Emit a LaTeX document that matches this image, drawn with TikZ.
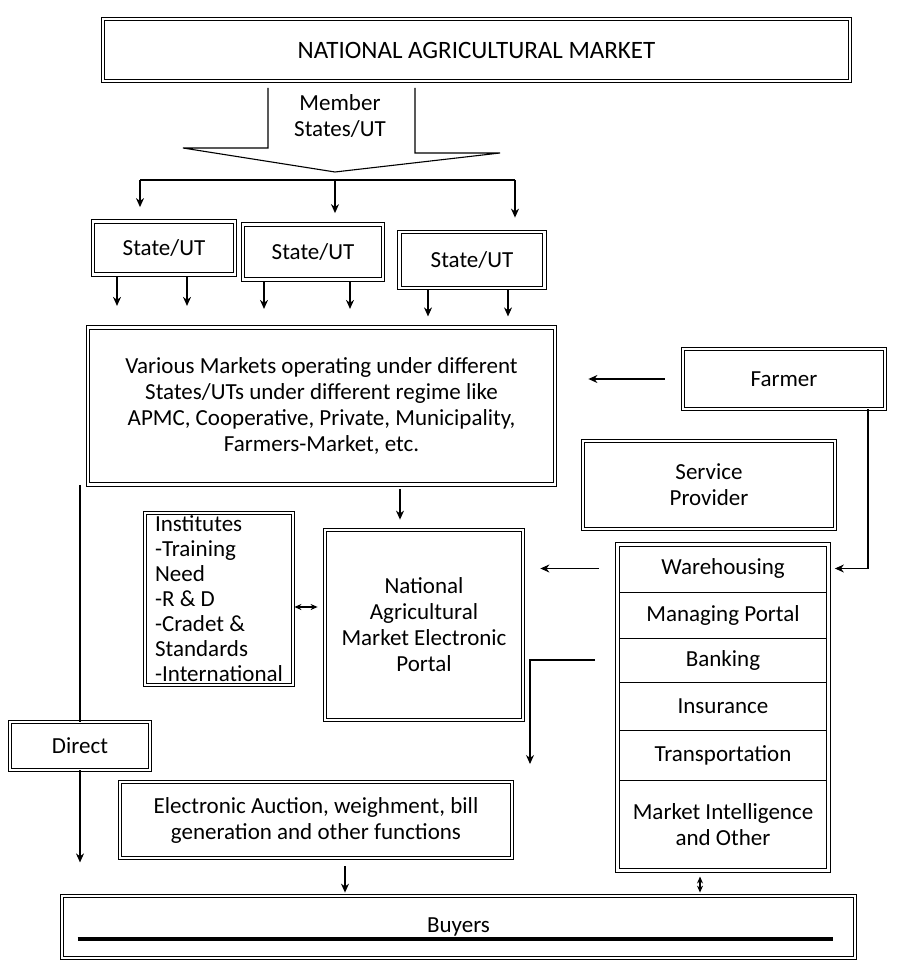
\documentclass[tikz,border=0pt]{standalone}
\usepackage{fontspec}
\setmainfont{Carlito}
\usetikzlibrary{arrows.meta,calc,fit}
\begin{document}
\begin{tikzpicture}[x=1pt,y=-1pt,
  every node/.style={font=\fontsize{23}{26}\selectfont},
  dbox/.style={draw=black, double, double distance=2.6pt, line width=0.8pt, inner sep=0pt, align=center},
  cell/.style={draw=black, line width=1pt, inner sep=0pt, align=center, minimum width=210pt},
  conn/.style={draw=black, line width=1.1pt},
  arr/.style={conn, -{Stealth[length=9pt,width=8pt]}},
  darr/.style={conn, {Stealth[length=7pt,width=6pt]}-{Stealth[length=7pt,width=6pt]}}
]
\useasboundingbox (0,0) rectangle (901,968);

% title
\node[dbox, minimum width=747pt, minimum height=62pt, font=\fontsize{25}{28}\selectfont] (nam) at (476.5,50) {NATIONAL AGRICULTURAL MARKET};

% block arrow
\draw[conn] (268,88) -- (268,148) -- (183,148) -- (335,172) -- (500,153) -- (415,153) -- (415,88);
\node[align=center] (member) at (340,116) {Member\\States/UT};

% bus
\coordinate (b1) at (140,180);
\coordinate (b2) at (335,180);
\coordinate (b3) at (515,180);
\draw[conn] (b1) -- (b3);

% states
\node[dbox, minimum width=142pt, minimum height=53pt] (s1) at (164,248) {State/UT};
\node[dbox, minimum width=140pt, minimum height=55pt] (s2) at (313,252) {State/UT};
\node[dbox, minimum width=145pt, minimum height=56pt] (s3) at (472,260) {State/UT};

\draw[arr, shorten >=14pt] (b1) -- (b1 |- s1.north);
\draw[arr, shorten >=11pt] (b2) -- (b2 |- s2.north);
\draw[arr, shorten >=14pt] (b3) -- (b3 |- s3.north);

% markets
\node[dbox, minimum width=467pt, minimum height=157pt] (mk) at (321.5,406)
 {Various Markets operating under different\\States/UTs under different regime like\\APMC, Cooperative, Private, Municipality,\\Farmers-Market, etc.};

\draw[arr, shorten <=2pt] ($(s1.south)+(-47,0)$) -- ++(0,31);
\draw[arr, shorten <=2pt] ($(s1.south)+(23,0)$) -- ++(0,31);
\draw[arr, shorten <=2pt] ($(s2.south)+(-49,0)$) -- ++(0,29);
\draw[arr, shorten <=2pt] ($(s2.south)+(37,0)$) -- ++(0,29);
\draw[arr, shorten <=2pt] ($(s3.south)+(-44,0)$) -- ++(0,28);
\draw[arr, shorten <=2pt] ($(s3.south)+(36,0)$) -- ++(0,28);

% farmer & service provider
\node[dbox, minimum width=202pt, minimum height=60pt] (fa) at (784,379) {Farmer};
\node[dbox, minimum width=252pt, minimum height=88pt] (sp) at (709,485) {Service\\Provider};

% service column
\node[cell, minimum height=47pt] (wh) at (723,568.5) {Warehousing};
\node[cell, minimum height=46pt] (mp) at (723,615) {Managing Portal};
\node[cell, minimum height=44pt] (bk) at (723,660) {Banking};
\node[cell, minimum height=48pt] (ins) at (723,706) {Insurance};
\node[cell, minimum height=50pt] (tr) at (723,755) {Transportation};
\node[cell, minimum height=90pt] (mi) at (723,825) {Market Intelligence\\and Other};
\node[dbox, fit=(wh)(mi)] (col) {};

% institutes & portal
\node[dbox, minimum width=148pt, minimum height=172pt, align=left, font=\fontsize{23}{25}\selectfont] (inst) at (219,599)
 {Institutes\\-Training\\Need\\-R \& D\\-Cradet \&\\Standards\\-International};
\node[dbox, minimum width=198pt, minimum height=190pt] (po) at (424,625)
 {National\\Agricultural\\Market Electronic\\Portal};

% direct, auction, buyers
\node[dbox, minimum width=140pt, minimum height=48pt] (di) at (80,746) {Direct};
\node[dbox, minimum width=392pt, minimum height=76pt] (au) at (316,820)
 {Electronic Auction, weighment, bill\\generation and other functions};
\node[dbox, minimum width=793pt, minimum height=62pt] (bu) at (458.5,927) {Buyers};
\draw[line width=3.4pt, black] ($(bu.west)+(16,12)$) -- ($(bu.east)+(-22,12)$);

% connectors
\draw[arr, shorten <=18pt, shorten >=33pt] (fa.west) -- (fa.west -| mk.east);
\draw[arr, shorten >=6pt] ($(fa.south)+(84,0)$) |- (col.east |- wh.east);
\draw[arr, shorten <=18pt, shorten >=17pt] (wh.west -| col.west) -- (wh.west -| po.east);
\coordinate (bend) at (530,656);
\coordinate (bendend) at (530,764);
\draw[arr, shorten <=22pt] (bk.west -| col.west) -- (bk.west -| bend) -- (bendend);
\draw[arr, shorten <=4pt, shorten >=10pt] ($(mk.south)+(78.5,0)$) -- ($(po.north)+(-24,0)$);
\draw[darr, shorten <=1pt, shorten >=7pt] ($(inst.east)+(0,8)$) -- ($(inst.east -| po.west)+(0,8)$);
\draw[conn] (di.north |- mk.south) -- (di.north);
\draw[arr] (di.south) -- ++(0,92);
\draw[arr, shorten <=8pt, shorten >=3pt] ($(au.south)+(29,0)$) -- ($(bu.north)+(-113.5,0)$);
\draw[darr, shorten <=6pt, shorten >=3pt] ($(mi.south)+(-23,0)$) -- ($(bu.north)+(241.5,0)$);
\end{tikzpicture}
\end{document}
